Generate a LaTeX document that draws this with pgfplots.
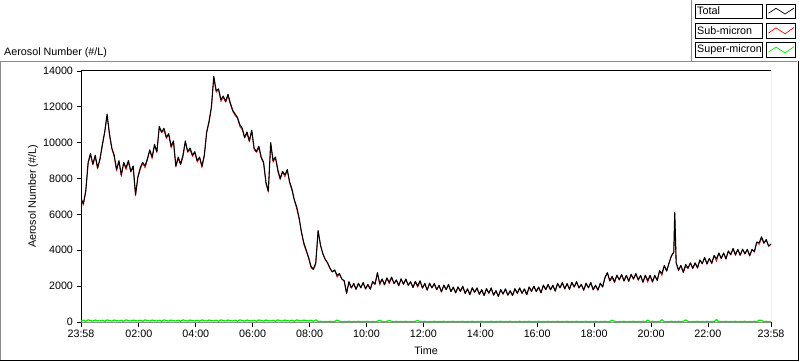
\documentclass[border=0pt]{standalone}
\usepackage{pgfplots}
\pgfplotsset{compat=1.18}
\usepackage{pgfplotstable}
\usepackage{fontspec}
\setmainfont{Liberation Sans}
\definecolor{lvgray}{RGB}{140,140,140}
\definecolor{lvred}{RGB}{255,0,0}
\definecolor{lvgreen}{RGB}{0,230,0}

\pgfplotstableread{
m total sub super
0 6900 6840 60
5 6600 6500 100
10 7300 7260 40
15 8900 8780 120
20 9400 9320 80
25 8800 8750 50
30 9300 9190 110
35 8600 8530 70
40 9100 9040 60
45 9900 9800 100
50 10600 10560 40
55 11600 11480 120
60 10500 10420 80
65 9700 9650 50
70 9300 9190 110
75 8500 8430 70
80 9000 8940 60
85 8200 8100 100
90 8900 8860 40
95 8600 8480 120
100 9000 8920 80
105 8400 8350 50
110 8700 8590 110
115 7100 7030 70
120 8100 8040 60
125 8600 8500 100
130 8900 8860 40
135 8700 8580 120
140 9100 9020 80
145 9600 9550 50
150 9200 9090 110
155 9900 9830 70
160 9500 9440 60
165 10900 10800 100
170 10600 10560 40
175 10800 10680 120
180 10300 10220 80
185 10500 10450 50
190 9800 9690 110
195 10100 10030 70
200 8700 8640 60
205 9200 9100 100
210 8800 8760 40
215 9300 9180 120
220 10100 10020 80
225 9500 9450 50
230 9700 9590 110
235 9300 9230 70
240 9500 9440 60
245 9000 8900 100
250 9200 9160 40
255 8700 8580 120
260 9300 9220 80
265 10600 10550 50
270 11200 11090 110
275 12000 11930 70
280 13700 13640 60
285 12900 12800 100
290 13000 12960 40
295 12400 12280 120
300 12600 12520 80
305 12300 12250 50
310 12700 12590 110
315 12200 12130 70
320 11800 11740 60
325 11600 11500 100
330 11400 11360 40
335 11000 10880 120
340 10800 10720 80
345 10300 10250 50
350 10600 10490 110
355 10100 10030 70
360 10700 10640 60
365 9700 9600 100
370 9500 9460 40
375 9800 9680 120
380 9200 9120 80
385 8900 8850 50
390 7800 7690 110
395 7300 7230 70
400 10000 9940 60
405 9000 8900 100
410 9200 9160 40
415 8500 8380 120
420 8000 7920 80
425 8400 8350 50
430 8200 8090 110
435 8500 8430 70
440 7800 7740 60
445 7400 7300 100
450 6800 6760 40
455 6400 6280 120
460 5800 5720 80
465 5000 4950 50
470 4400 4290 110
475 4000 3930 70
480 3600 3540 60
485 3100 3000 100
490 2950 2910 40
495 3300 3180 120
500 5100 5080 20
505 4300 4260 40
510 3800 3790 10
515 3500 3470 30
520 3300 3280 20
525 3000 2960 40
530 2800 2790 10
535 2900 2870 30
540 2600 2490 110
545 2700 2660 40
550 2400 2390 10
555 2300 2270 30
560 1600 1580 20
565 2250 2210 40
570 1900 1890 10
575 2150 2120 30
580 1830 1810 20
585 2160 2120 40
590 1910 1900 10
595 2200 2170 30
600 1850 1830 20
605 2100 2060 40
610 1830 1820 10
615 2260 2230 30
620 2110 2090 20
625 2750 2710 40
630 2150 2050 100
635 2400 2370 30
640 2080 2060 20
645 2460 2420 40
650 2210 2120 90
655 2500 2470 30
660 2150 2130 20
665 2350 2310 40
670 2030 2020 10
675 2410 2380 30
680 2110 2090 20
685 2400 2360 40
690 2050 2040 10
695 2250 2220 30
700 1930 1910 20
705 2260 2220 40
710 2010 1930 80
715 2300 2270 30
720 1900 1880 20
725 2150 2110 40
730 1780 1770 10
735 2160 2130 30
740 1910 1890 20
745 2150 2110 40
750 1800 1790 10
755 2050 2020 30
760 1680 1660 20
765 2060 2020 40
770 1810 1800 10
775 2100 2070 30
780 1700 1680 20
785 1950 1910 40
790 1630 1620 10
795 1960 1930 30
800 1710 1690 20
805 2000 1960 40
810 1600 1590 10
815 1850 1820 30
820 1530 1510 20
825 1910 1870 40
830 1660 1650 10
835 1900 1870 30
840 1550 1530 20
845 1800 1760 40
850 1480 1470 10
855 1860 1830 30
860 1610 1590 20
865 1900 1860 40
870 1500 1490 10
875 1750 1720 30
880 1430 1410 20
885 1810 1770 40
890 1560 1550 10
895 1850 1820 30
900 1500 1480 20
905 1750 1710 40
910 1480 1470 10
915 1860 1830 30
920 1610 1590 20
925 1900 1860 40
930 1600 1590 10
935 1850 1820 30
940 1530 1510 20
945 1960 1920 40
950 1710 1700 10
955 2000 1970 30
960 1700 1680 20
965 1950 1910 40
970 1630 1620 10
975 2060 2030 30
980 1810 1790 20
985 2100 2060 40
990 1800 1790 10
995 2050 2020 30
1000 1730 1710 20
1005 2160 2120 40
1010 1910 1900 10
1015 2200 2170 30
1020 1850 1830 20
1025 2150 2110 40
1030 1830 1820 10
1035 2210 2180 30
1040 1960 1940 20
1045 2250 2210 40
1050 1900 1890 10
1055 2100 2070 30
1060 1780 1760 20
1065 2160 2120 40
1070 1910 1900 10
1075 2200 2170 30
1080 1800 1780 20
1085 2050 2010 40
1090 1780 1770 10
1095 2160 2130 30
1100 1960 1940 20
1105 2500 2460 40
1110 2750 2740 10
1115 2300 2270 30
1120 2550 2450 100
1125 2230 2190 40
1130 2610 2600 10
1135 2360 2330 30
1140 2650 2630 20
1145 2300 2260 40
1150 2600 2590 10
1155 2280 2250 30
1160 2660 2640 20
1165 2410 2370 40
1170 2700 2690 10
1175 2350 2320 30
1180 2600 2580 20
1185 2230 2190 40
1190 2610 2600 10
1195 2310 2200 110
1200 2600 2580 20
1205 2250 2210 40
1210 2600 2590 10
1215 2330 2300 30
1220 2860 2840 20
1225 2710 2580 130
1230 3150 3140 10
1235 2850 2820 30
1240 3300 3280 20
1245 3700 3660 40
1250 3900 3890 10
1252 6100 6070 30
1255 3300 3280 20
1260 2900 2860 40
1265 3160 3150 10
1270 2780 2750 30
1275 3210 3090 120
1280 3010 2970 40
1285 3300 3290 10
1290 3000 2970 30
1295 3300 3280 20
1300 3030 2990 40
1305 3460 3450 10
1310 3260 3230 30
1315 3600 3580 20
1320 3250 3210 40
1325 3550 3540 10
1330 3280 3250 30
1335 3710 3690 20
1340 3510 3370 140
1345 3850 3840 10
1350 3550 3520 30
1355 3850 3830 20
1360 3530 3490 40
1365 3960 3950 10
1370 3760 3730 30
1375 4100 4080 20
1380 3750 3710 40
1385 4050 4040 10
1390 3730 3700 30
1395 4060 4040 20
1400 3810 3770 40
1405 4050 4040 10
1410 3700 3670 30
1415 4050 4030 20
1420 3930 3890 40
1425 4460 4450 10
1430 4410 4310 100
1435 4750 4660 90
1440 4400 4380 20
1445 4600 4560 40
1450 4230 4220 10
1455 4350 4320 30
}\data

\begin{document}
\begin{tikzpicture}[x=1bp,y=1bp,font=\fontsize{10.8}{13}\selectfont]
\path[use as bounding box] (0,0) rectangle (800,361);
% outer panel
\draw[lvgray,line width=1bp] (0.5,0) -- (0.5,299.5) -- (797,299.5);
\draw[black,line width=1bp] (0,0.5) -- (798.5,0.5) -- (798.5,300);
\draw[lvgray,line width=1bp] (691.5,361) -- (691.5,300);
% title
\node[anchor=west,inner sep=0pt] at (4,308.5) {Aerosol Number (\#/L)};
% legend
\foreach \yt/\yb/\lab/\col in {357/342.7/Total/black, 337.7/322.7/Sub-micron/lvred, 318.3/303.7/Super-micron/lvgreen}{
  \draw[black,line width=0.8bp] (695,\yb) rectangle (762.3,\yt);
  \node[anchor=west,inner sep=0pt] at (697,{(\yt+\yb)/2}) {\lab};
  \draw[black,line width=0.8bp] (766.7,\yb) rectangle (795.7,\yt);
  \draw[\col,line width=0.7bp] (768.5,{\yb+0.35*(\yt-\yb)}) -- (776,{\yb+0.7*(\yt-\yb)}) -- (785,{\yb+0.3*(\yt-\yb)}) -- (794,{\yb+0.72*(\yt-\yb)});
}
\begin{axis}[
  name=ax,
  at={(81bp,39bp)}, anchor=south west,
  scale only axis, width=690bp, height=251bp,
  xmin=0, xmax=1455, ymin=0, ymax=14000,
  axis line style={draw=none},
  tick pos=left, tick align=outside,
  major tick length=4.5bp, minor tick length=2.5bp,
  tick style={black,line width=0.8bp},
  xtick={0,122,242,362,482,602,722,842,962,1082,1202,1322,1455},
  xticklabels={23:58,02:00,04:00,06:00,08:00,10:00,12:00,14:00,16:00,18:00,20:00,22:00,23:58},
  minor x tick num=8,
  ytick={0,2000,4000,6000,8000,10000,12000,14000},
  scaled y ticks=false,
  /pgf/number format/assume math mode=true,
  yticklabel style={/pgf/number format/1000 sep={}},
  xlabel={Time}, ylabel={Aerosol Number (\#/L)},
  every axis x label/.style={at={(axis description cs:0.5,0)},anchor=center,yshift=-28.7bp},
  every axis y label/.style={at={(axis description cs:0,0.5)},xshift=-48bp,rotate=90,anchor=center},
]
\draw[lvgray,line width=1bp] (rel axis cs:1,1) |- (rel axis cs:0,0);
\draw[black,line width=1bp] (rel axis cs:0,0) |- (rel axis cs:1,1);
\addplot[lvred,line width=0.6bp,line join=round] table[x=m,y=sub] {\data};
\addplot[black,line width=1.1bp,line join=round] table[x=m,y=total] {\data};
\addplot[lvgreen,line width=1.2bp,line join=round] table[x=m,y=super] {\data};
\end{axis}
\end{tikzpicture}
\end{document}
